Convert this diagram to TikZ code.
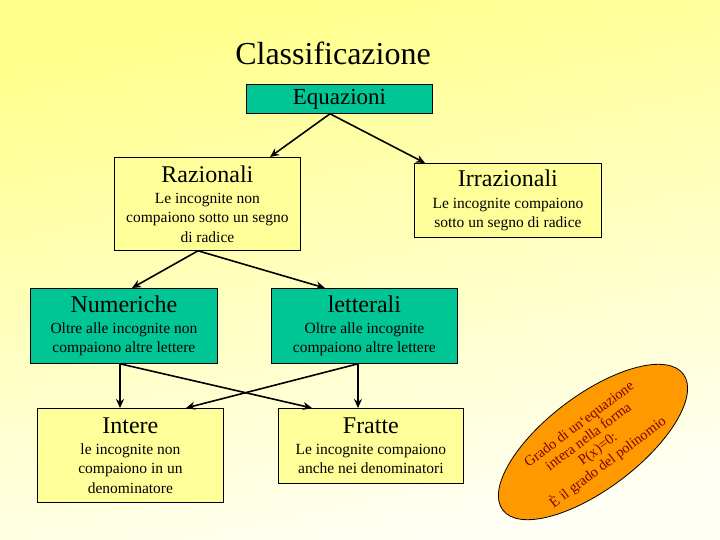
\documentclass[tikz,border=0pt]{standalone}
\usepackage{fontspec}
\setmainfont{Liberation Serif}
\usetikzlibrary{arrows.meta,calc,shapes.geometric}
\definecolor{teal1}{RGB}{0,198,150}
\definecolor{yboxc}{RGB}{255,255,153}
\definecolor{orng}{RGB}{255,153,0}
\definecolor{dred}{RGB}{128,0,0}
\definecolor{bga}{RGB}{255,255,138}
\definecolor{bgb}{RGB}{255,255,245}
\tikzset{
  box/.style={draw=black, line width=0.8pt, anchor=north west, inner sep=0pt, align=center, font=\fontsize{15.5}{19.5}\selectfont},
  gbox/.style={box, fill=teal1},
  ybox/.style={box, fill=yboxc},
  arr/.style={line width=1.6pt, -{Stealth[length=9pt,width=8pt]}},
}
\newcommand{\boxtitle}[1]{{\fontsize{24}{24}\selectfont #1}}
\begin{document}
\begin{tikzpicture}[x=1pt,y=-1pt]
\path[use as bounding box] (0,0) rectangle (720,540);
\shade[top color=bga,bottom color=bgb,shading angle=12] (0,0) rectangle (720,540);

\node[font=\fontsize{32}{32}\selectfont, anchor=base] (title) at (333,65) {Classificazione};
\node[gbox, minimum width=186pt, minimum height=29pt, font=\fontsize{23}{23}\selectfont] (eq) at (246,84) {Equazioni};
\node[ybox, minimum width=186pt, minimum height=93pt] (raz) at (114,157) {\boxtitle{Razionali}\\[1.5pt]Le incognite non\\compaiono sotto un segno\\di radice};
\node[ybox, minimum width=187pt, minimum height=74pt] (irr) at (414,163) {\boxtitle{Irrazionali}\\[2pt]Le incognite compaiono\\sotto un segno di radice};
\node[gbox, minimum width=187pt, minimum height=75pt] (num) at (30,288) {\boxtitle{Numeriche}\\[1.5pt]Oltre alle  incognite non\\compaiono altre lettere};
\node[gbox, minimum width=186pt, minimum height=75pt] (let) at (271,288) {\boxtitle{letterali}\\[1.5pt]Oltre alle  incognite\\compaiono altre lettere};
\node[ybox, minimum width=186pt, minimum height=94pt] (int) at (37,408) {\boxtitle{Intere}\\[1.5pt]le  incognite non\\compaiono in un\\denominatore};
\node[ybox, minimum width=185pt, minimum height=75pt] (fra) at (278,408) {\boxtitle{Fratte}\\[1.5pt]Le  incognite compaiono\\anche nei denominatori};

\node[ellipse, draw=black, line width=0.8pt, fill=orng, minimum width=226pt, minimum height=94pt, rotate=37, inner sep=0pt] (el) at (593,442) {};
\node[rotate=37, align=center, text=dred, font=\fontsize{14.5}{15.5}\selectfont] (elt) at (594,444) {Grado di un`equazione\\intera  nella forma\\P(x)=0:\\È il grado del polinomio};

\coordinate (eqo) at ($(eq.south west)+(84,0)$);
\coordinate (razi) at ($(raz.north west)+(156,0)$);
\coordinate (irri) at ($(irr.north west)+(11,0)$);
\coordinate (razo) at ($(raz.south west)+(84,0)$);
\coordinate (numi) at ($(num.north west)+(102,0)$);
\coordinate (leti) at ($(let.north west)+(54,0)$);
\coordinate (numo) at ($(num.south west)+(90,0)$);
\coordinate (inti1) at ($(int.north west)+(83,0)$);
\coordinate (frai1) at ($(fra.north west)+(34,0)$);
\coordinate (leto) at ($(let.south west)+(87,0)$);
\coordinate (frai2) at ($(fra.north west)+(80,0)$);
\coordinate (inti2) at ($(int.north west)+(149,0)$);

\draw[arr] (eqo) -- (razi);
\draw[arr] (eqo) -- (irri);
\draw[arr] (razo) -- (numi);
\draw[arr] (razo) -- (leti);
\draw[arr] (numo) -- (inti1);
\draw[arr] (numo) -- (frai1);
\draw[arr] (leto) -- (frai2);
\draw[arr] (leto) -- (inti2);
\end{tikzpicture}
\end{document}
